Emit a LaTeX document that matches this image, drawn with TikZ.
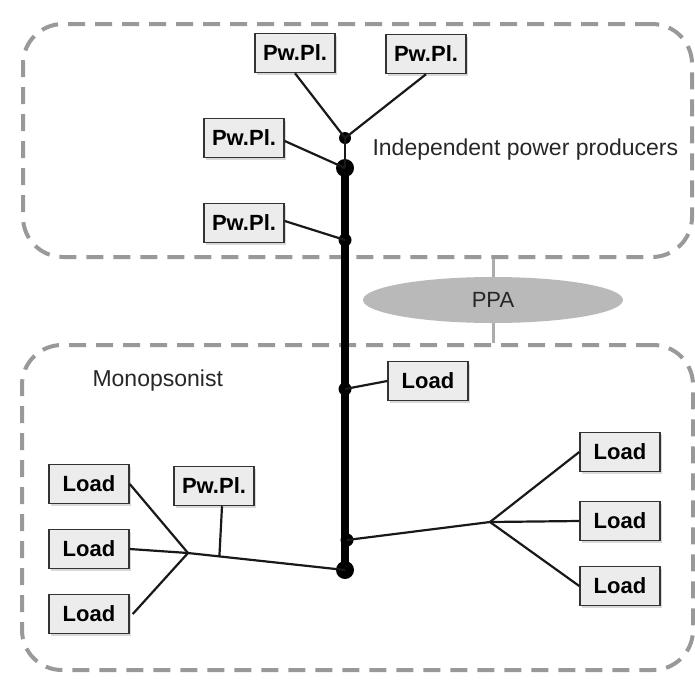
\documentclass[tikz,border=0pt]{standalone}
\usepackage{fontspec}
\setmainfont{Liberation Sans}
\usepackage{tikz}
\usetikzlibrary{shapes.geometric,shadows,calc}
\tikzstyle{unit} = [draw=black!80, line width=1.5pt, fill=gray!15, minimum width=80pt, minimum height=39pt, inner sep=0pt, font=\fontsize{22}{24}\selectfont\bfseries, drop shadow={opacity=0.3, shadow xshift=2pt, shadow yshift=-2pt}]
\tikzstyle{group} = [draw=gray!80, line width=4pt, dash pattern=on 17pt off 10pt, rounded corners=40pt, inner sep=0pt]
\tikzstyle{wire} = [line width=2.2pt, black!90]
\tikzstyle{bus} = [line width=8pt, black]
\tikzstyle{tap} = [circle, fill=black, inner sep=0pt, minimum size=13pt]
\tikzstyle{bigtap} = [circle, fill=black, inner sep=0pt, minimum size=18pt]

\begin{document}
\begin{tikzpicture}[x=1pt, y=-1pt]
			\useasboundingbox (0, 0) rectangle (695, 683);
			% the two groups and the contract between them
			\node[group, minimum width=669pt, minimum height=233pt] (ipp) at (357.5, 140.5) {};
			\node[group, minimum width=671pt, minimum height=325pt] (mono) at (357.5, 507.5) {};
			\node[ellipse, fill=gray!55, minimum width=260pt, minimum height=46pt, inner sep=0pt, text=black!85, font=\fontsize{22}{24}\selectfont] (ppa) at (493, 300) {PPA};
			\draw[gray!65, line width=3pt] (ppa.north |- ipp.south) -- (ppa.north);
			\draw[gray!65, line width=3pt] (ppa.south) -- (ppa.south |- mono.north);
			\node[anchor=west, font=\fontsize{23}{26}\selectfont, text=black!85] (ipptext) at (369, 150) {Independent power producers};
			\node[anchor=west, font=\fontsize{23}{26}\selectfont, text=black!85] (monotext) at (89, 381) {Monopsonist};

			% bus taps
			\node[tap, minimum size=12pt] (d0) at (345, 138) {};
			\node[bigtap] (d1) at (345, 168) {};
			\node[tap] (d2) at (345, 240) {};
			\node[tap] (d3) at (345, 389) {};
			\node[tap] (d4) at (347, 540) {};
			\node[bigtap] (d5) at (345, 570) {};
			\coordinate (jl) at (188, 553);
			\coordinate (jr) at (490, 522);
			\coordinate (jp) at ($(jl)!0.2!(d5)$);

			% plants and loads
			\node[unit] (pp1) at (295, 53) {Pw.Pl.};
			\node[unit] (pp2) at (426, 54) {Pw.Pl.};
			\node[unit] (pp3) at (244, 138) {Pw.Pl.};
			\node[unit] (pp4) at (244, 223) {Pw.Pl.};
			\node[unit] (pp5) at (214, 486) {Pw.Pl.};
			\node[unit] (ldm) at (428, 381) {Load};
			\node[unit] (l1) at (89, 484) {Load};
			\node[unit] (l2) at (89, 549) {Load};
			\node[unit] (l3) at (89, 614) {Load};
			\node[unit] (r1) at (620, 452) {Load};
			\node[unit] (r2) at (620, 521) {Load};
			\node[unit] (r3) at (620, 586) {Load};

			\draw[bus] (d1.center) -- (d5.center);
			\draw[wire] (d0.center) -- (d1.center);
			\draw[wire] (pp1.south) -- (d0.center);
			\draw[wire] (pp2.south) -- (d0.center);
			\draw[wire] ([yshift=-3pt]pp3.east) -- (d1.center);
			\draw[wire] ([yshift=2pt]pp4.east) -- (d2.center);
			\draw[wire] (ldm.west) -- (d3.center);
			\draw[wire] (l1.east) -- (jl);
			\draw[wire] (l2.east) -- (jl);
			\draw[wire] ([xshift=3pt]l3.east) -- (jl);
			\draw[wire] (jl) -- (d5.center);
			\draw[wire] ([xshift=8pt]pp5.south) -- (jp);
			\draw[wire] (d4.center) -- (jr);
			\draw[wire] (jr) -- (r1.west);
			\draw[wire] (jr) -- (r2.west);
			\draw[wire] (jr) -- (r3.west);
		\end{tikzpicture}
\end{document}
